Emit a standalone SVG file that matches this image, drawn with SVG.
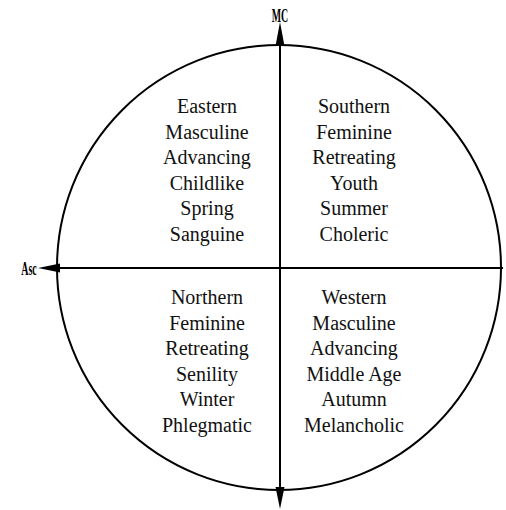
<svg xmlns="http://www.w3.org/2000/svg" width="506" height="510" viewBox="0 0 506 510">
<style>
.ln{stroke:#000;stroke-width:2;fill:none}
.ah{fill:#000;stroke:none}
.t{font-family:"Liberation Serif",serif;font-size:20px;fill:#111;text-anchor:middle}
.lab{font-family:"Liberation Serif",serif;font-size:18px;font-weight:bold;fill:#000;text-anchor:middle}
</style>
<rect width="506" height="510" fill="#fff"/>
<g id="circle"><ellipse class="ln" cx="279" cy="267.5" rx="222" ry="222.5"/></g>
<g id="connectors">
<line class="ln" x1="280" y1="30" x2="280" y2="500"/>
<line class="ln" x1="50" y1="268" x2="503" y2="268"/>
<path class="ah" d="M280,22 L284.5,46 L275.5,46 Z"/>
<path class="ah" d="M280,509 L284.5,487 L275.5,487 Z"/>
<path class="ah" d="M38,268 L60,263.5 L60,272.5 Z"/>
</g>
<g id="mc"><text class="lab" transform="translate(280,22) scale(0.55,1)">MC</text></g>
<g id="asc"><text class="lab" transform="translate(29,275) scale(0.55,1)">Asc</text></g>
<g id="q1"><text class="t" x="207" y="113">Eastern</text><text class="t" x="207" y="138.5">Masculine</text><text class="t" x="207" y="164">Advancing</text><text class="t" x="207" y="189.5">Childlike</text><text class="t" x="207" y="215">Spring</text><text class="t" x="207" y="240.5">Sanguine</text></g>
<g id="q2"><text class="t" x="354" y="113">Southern</text><text class="t" x="354" y="138.5">Feminine</text><text class="t" x="354" y="164">Retreating</text><text class="t" x="354" y="189.5">Youth</text><text class="t" x="354" y="215">Summer</text><text class="t" x="354" y="240.5">Choleric</text></g>
<g id="q3"><text class="t" x="207" y="304">Northern</text><text class="t" x="207" y="329.5">Feminine</text><text class="t" x="207" y="355">Retreating</text><text class="t" x="207" y="380.5">Senility</text><text class="t" x="207" y="406">Winter</text><text class="t" x="207" y="431.5">Phlegmatic</text></g>
<g id="q4"><text class="t" x="354" y="304">Western</text><text class="t" x="354" y="329.5">Masculine</text><text class="t" x="354" y="355">Advancing</text><text class="t" x="354" y="380.5">Middle Age</text><text class="t" x="354" y="406">Autumn</text><text class="t" x="354" y="431.5">Melancholic</text></g>
</svg>
